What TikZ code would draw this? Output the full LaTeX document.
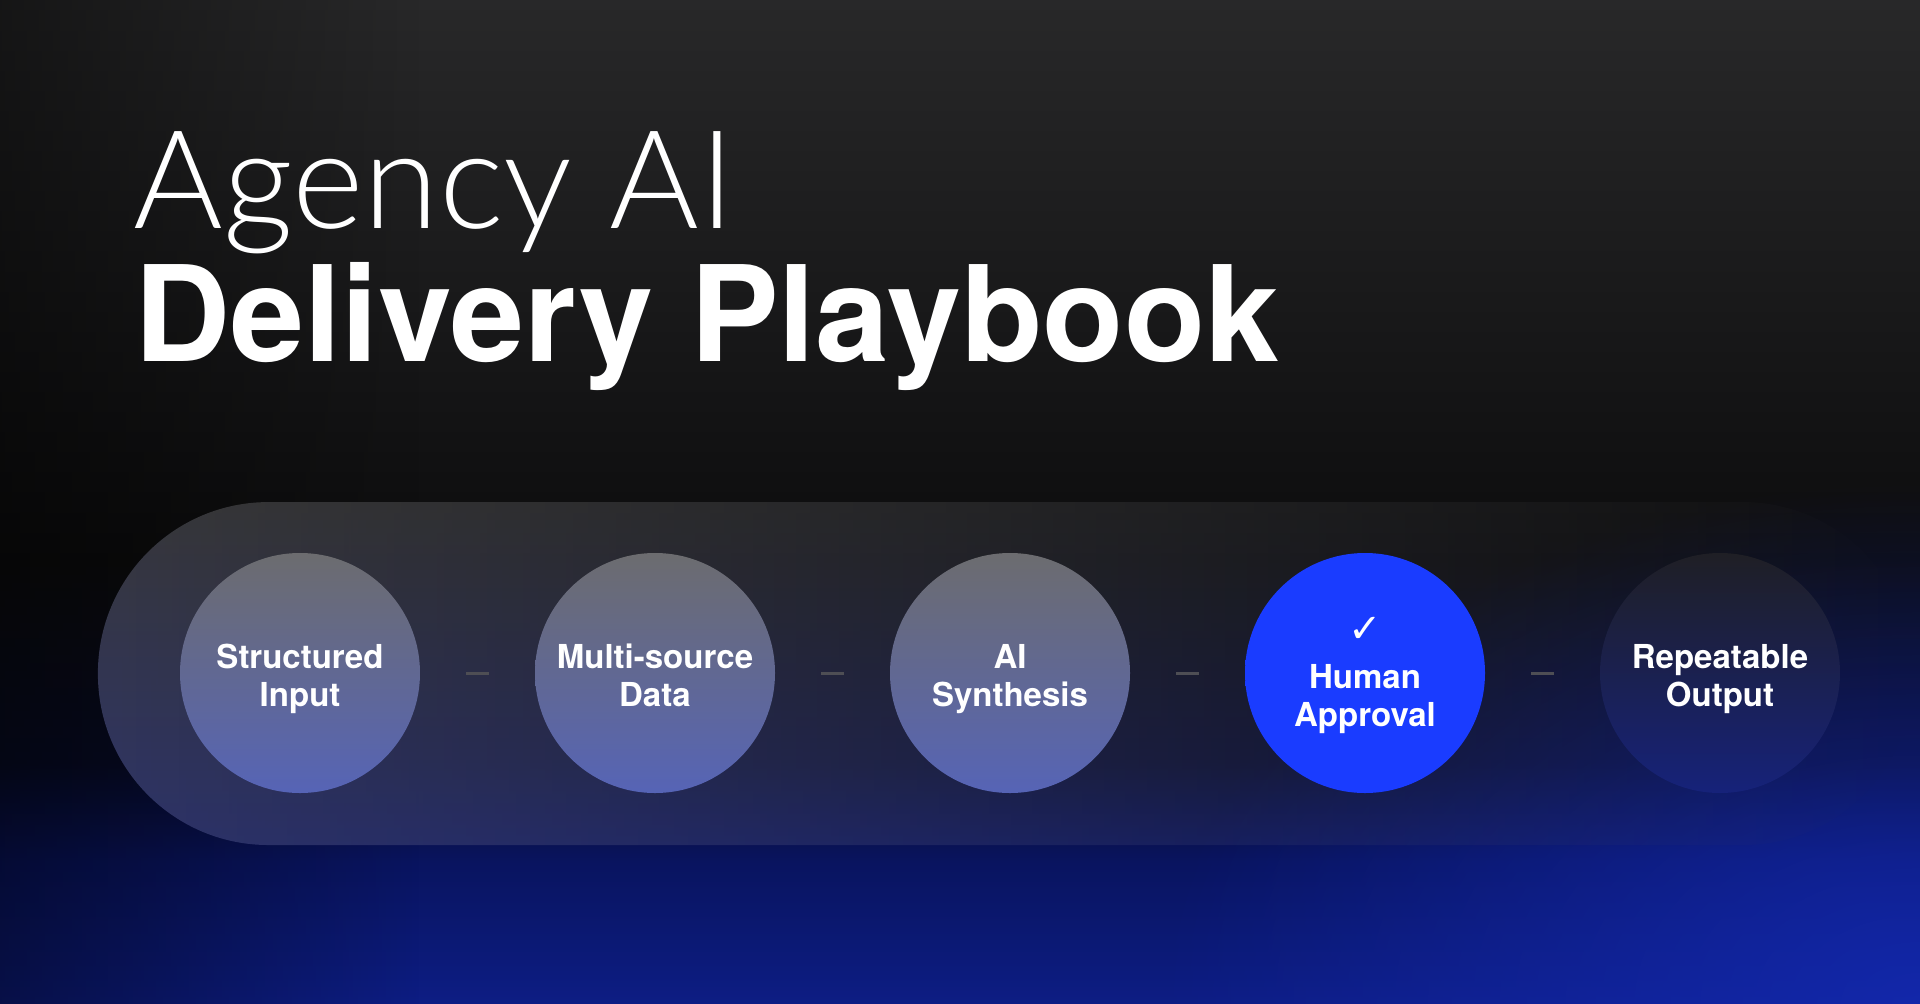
\documentclass[tikz,border=0pt]{standalone}
\usepackage{fontspec}
\setmainfont{TeX Gyre Heros}
\newfontfamily\thinfont{Lato Light}
\newfontfamily\tickfont{DejaVu Sans}
\usetikzlibrary{fadings}

\definecolor{bgtop}{RGB}{40,40,41}
\definecolor{bgmid}{RGB}{12,12,13}
\definecolor{bgdark}{RGB}{8,11,38}
\definecolor{bgnavy}{RGB}{9,20,96}
\definecolor{bgblue}{RGB}{13,29,132}
\definecolor{glowblue}{RGB}{20,42,180}
\definecolor{pilltop}{RGB}{56,56,58}
\definecolor{pillbot}{RGB}{46,52,106}
\definecolor{stepgray}{RGB}{108,108,111}
\definecolor{stepmid}{RGB}{99,99,108}
\definecolor{stepblue}{RGB}{86,100,182}
\definecolor{approveblue}{RGB}{26,60,255}
\definecolor{lasttop}{RGB}{31,31,37}
\definecolor{lastbot}{RGB}{22,34,122}
\definecolor{dashgray}{RGB}{78,78,84}

\pgfdeclareverticalshading{backdrop}{100bp}{color(0bp)=(bgblue); color(25bp)=(bgblue);
  color(32bp)=(bgnavy); color(37bp)=(bgdark); color(47bp)=(bgmid); color(75bp)=(bgtop); color(100bp)=(bgtop)}
\tikzfading[name=pillfade, left color=transparent!0, middle color=transparent!12, right color=transparent!100]
\tikzfading[name=softglow, inner color=transparent!0, outer color=transparent!100]

\tikzstyle{stepball} = [circle, minimum size=240pt, inner sep=0pt, align=center, text=white,
  text height=66pt, text depth=0pt, font=\fontsize{33}{38}\selectfont\bfseries,
  top color=stepgray, middle color=stepmid, bottom color=stepblue]
\tikzstyle{link} = [dashgray, line width=3pt]
\tikzstyle{title} = [anchor=base west, inner sep=0pt, text=white]

\begin{document}
\begin{tikzpicture}[x=1pt, y=-1pt]
\useasboundingbox (0,0) rectangle (1920,1004);

% Backdrop
\shade [shading=backdrop] (0,0) rectangle (1920,1004);
\fill [glowblue, path fading=softglow, fill opacity=0.8] (1920,1004) ellipse (760 and 520);
\fill [black, path fading=east, fill opacity=0.45] (0,-20) rectangle (420,1024);

% Title
\node [title, font=\thinfont\fontsize{137}{140}\selectfont] (agency) at (133,228) {Agency AI};
\node [title, font=\fontsize{133}{140}\selectfont\bfseries] (playbook) at (134,361) {Delivery Playbook};

% Pill behind the steps
\begin{scope}
\clip (0,0) rectangle (1920,1004);
\shade [top color=pilltop, bottom color=pillbot, path fading=pillfade, rounded corners=171pt]
  (100,502) rectangle (1920,845);
\end{scope}

% Steps
\node [stepball] (s1) at (300,673) {Structured\\Input};
\node [stepball] (s2) at (655,673) {Multi-source\\Data};
\node [stepball] (s3) at (1010,673) {AI\\Synthesis};
\node [stepball, text height=106pt, top color=approveblue, bottom color=approveblue, middle color=approveblue] (s4) at (1365,673)
  {{\tickfont\mdseries\fontsize{40}{40}\selectfont ✓}\\[8pt]Human\\Approval};
\node [stepball, top color=lasttop, middle color=lasttop!70!lastbot, bottom color=lastbot] (s5) at (1720,673) {Repeatable\\Output};

% dashes
\draw [link] ([xshift=46]s1.east) -- ([xshift=-46]s2.west);
\draw [link] ([xshift=46]s2.east) -- ([xshift=-46]s3.west);
\draw [link] ([xshift=46]s3.east) -- ([xshift=-46]s4.west);
\draw [link] ([xshift=46]s4.east) -- ([xshift=-46]s5.west);

\end{tikzpicture}
\end{document}
